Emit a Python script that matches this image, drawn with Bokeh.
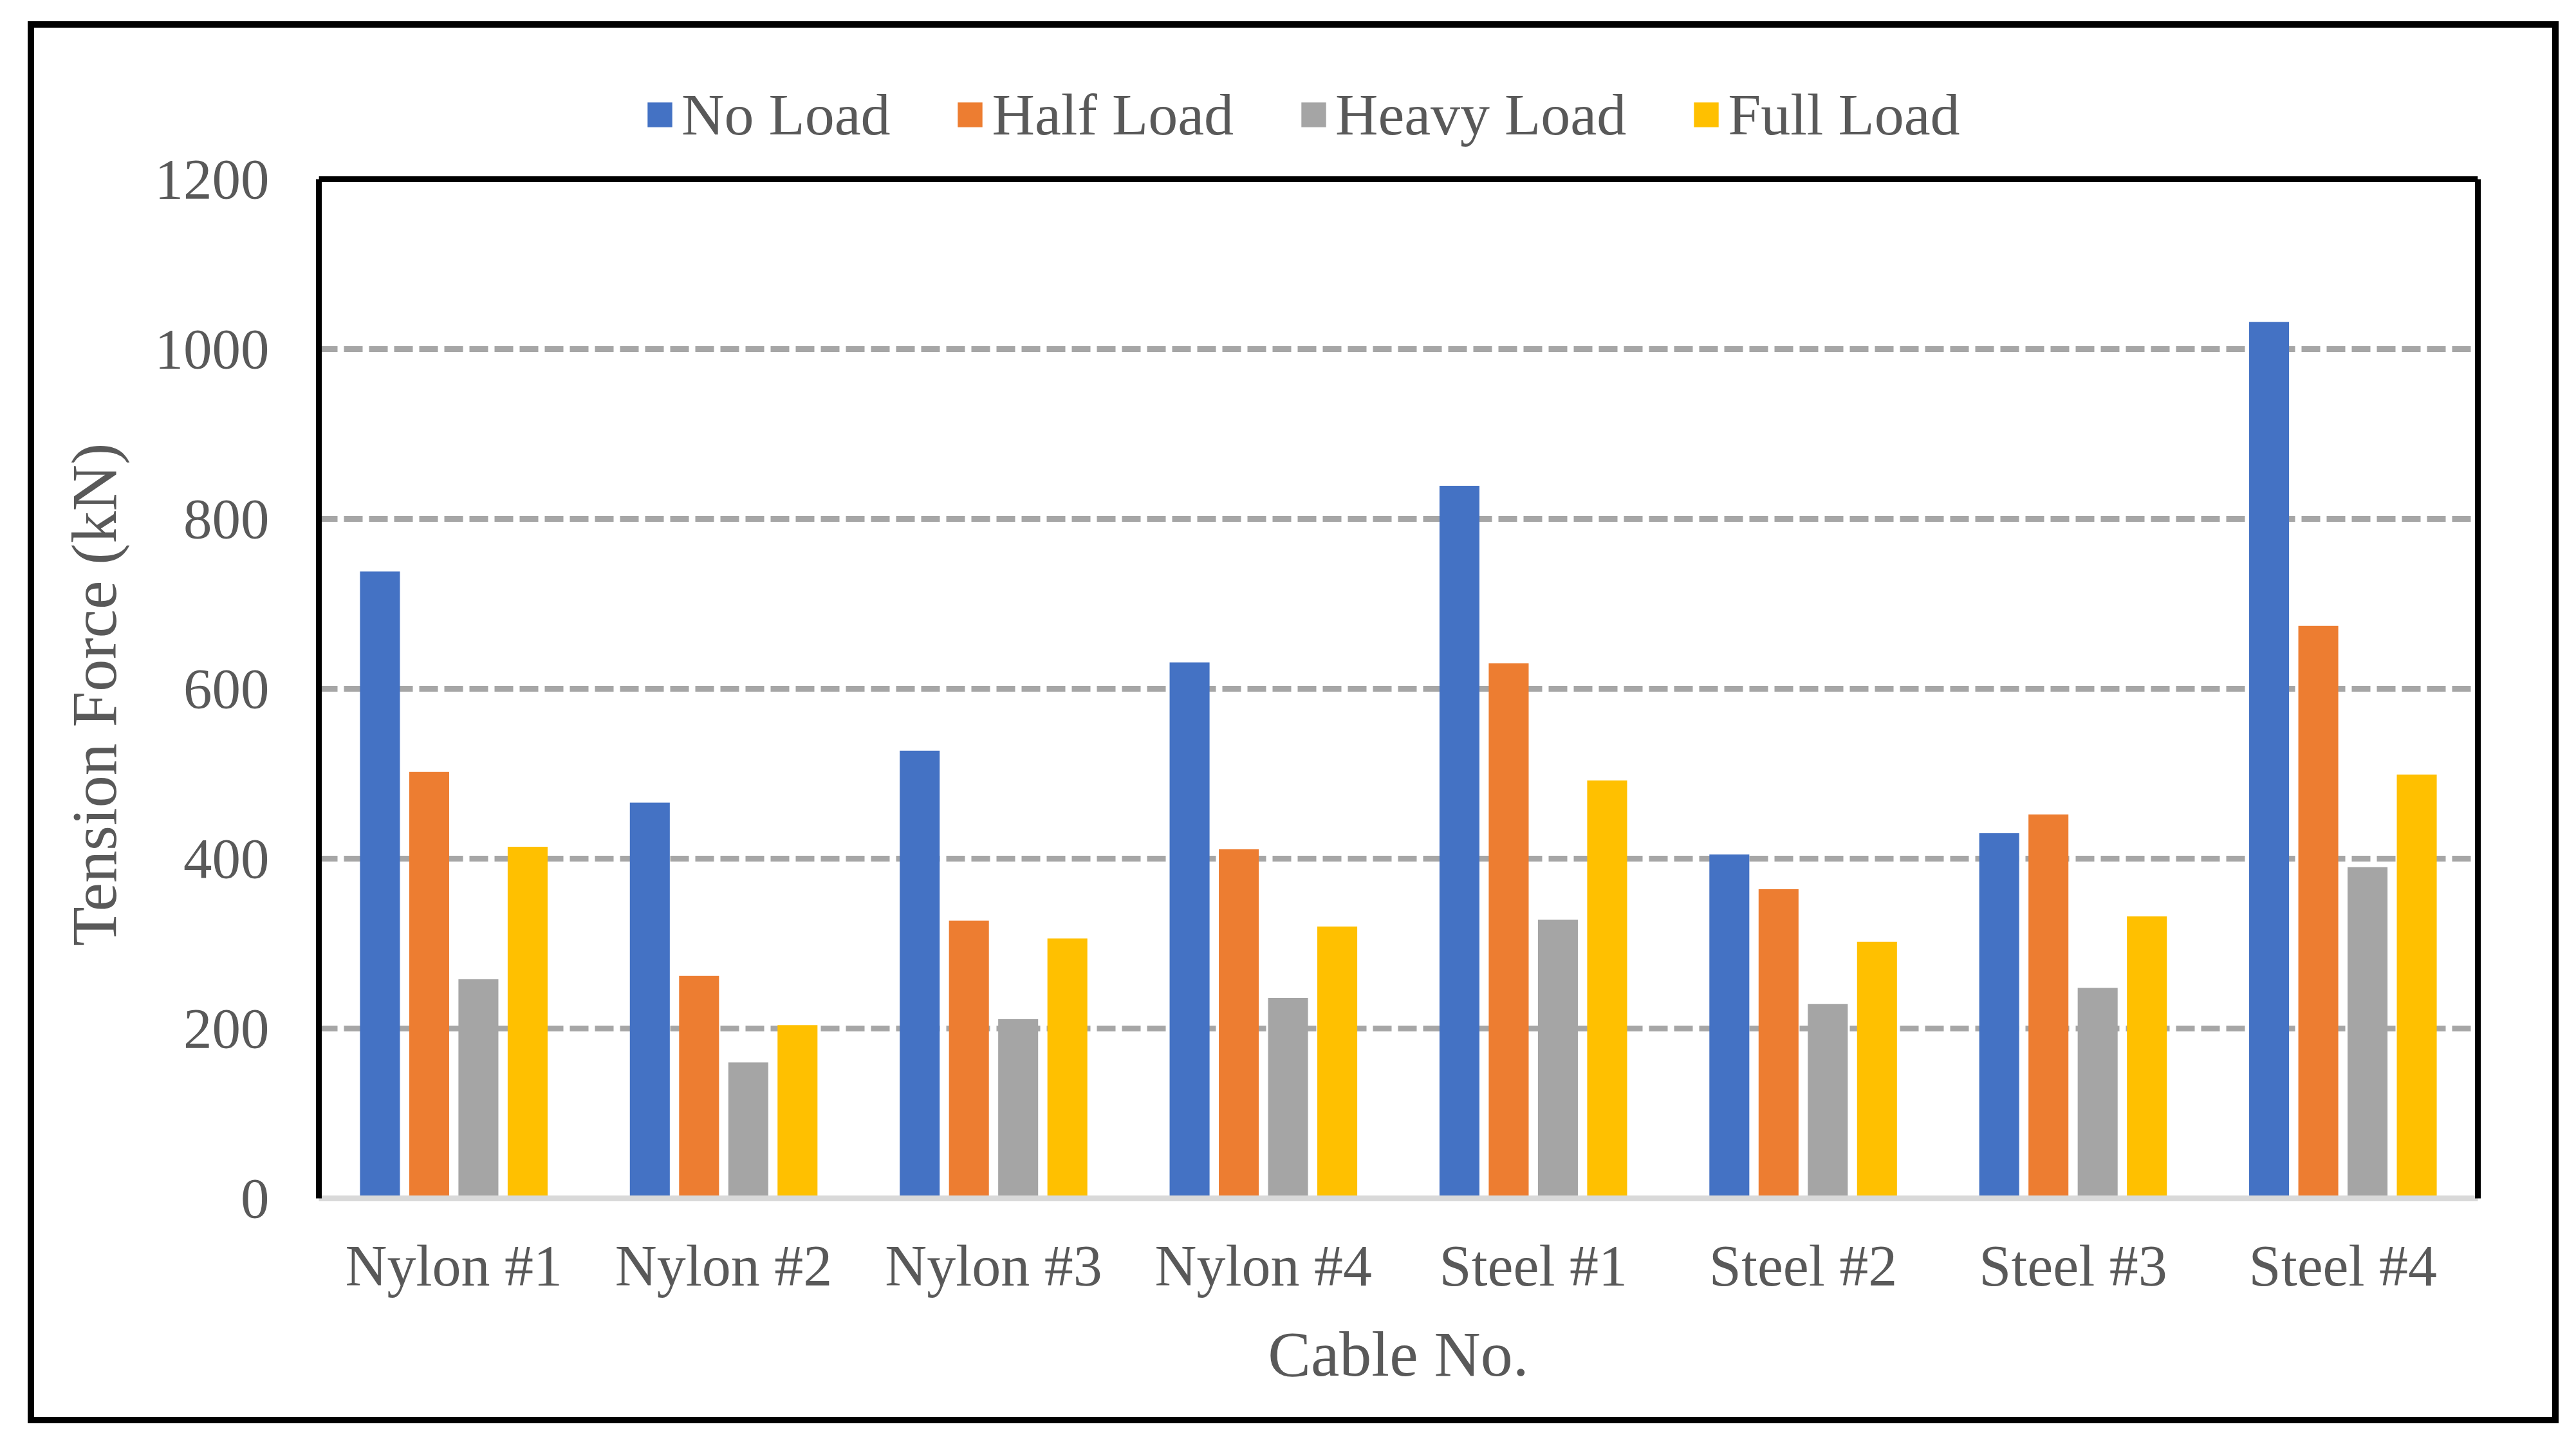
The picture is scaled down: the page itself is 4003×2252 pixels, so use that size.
from bokeh.plotting import figure
from bokeh.models import (FactorRange, Range1d, Legend, LegendItem, LinearAxis, Title,
                          FixedTicker, ColumnDataSource, InlineStyleSheet, Span)
from bokeh.transform import dodge
from bokeh.embed import file_html
from bokeh.resources import INLINE

cables = ["Nylon #1", "Nylon #2", "Nylon #3", "Nylon #4",
          "Steel #1", "Steel #2", "Steel #3", "Steel #4"]
no_load = [738, 466, 527, 631, 839, 405, 430, 1032]
half_load = [502, 262, 327, 411, 630, 364, 452, 674]
heavy_load = [258, 160, 211, 236, 328, 229, 248, 390]
full_load = [414, 204, 306, 320, 492, 302, 332, 499]
series_names = ["No Load", "Half Load", "Heavy Load", "Full Load"]
series_colors = ["#4472C4", "#ED7D31", "#A5A5A5", "#FFC000"]
y_ticks = [0, 200, 400, 600, 800, 1000, 1200]
y_max = 1200

FONT = "Liberation Serif"
TXT = "#595959"

# page geometry (pixels)
W, H = 3987, 2236
FRAME_LEFT, FRAME_RIGHT = 495, 3850
AXIS_TOP, FRAME_BOTTOM = 278, 1862      # where 1200 and 0 sit
FRAME_TOP = 98                          # frame extends above 1200 to hold the legend
px_per_unit = (FRAME_BOTTOM - AXIS_TOP) / y_max
view_top = (FRAME_BOTTOM - FRAME_TOP) / px_per_unit

p = figure(x_range=FactorRange(*cables), y_range=Range1d(0, view_top),
           width=W, height=H, output_backend="svg", toolbar_location=None,
           min_border_left=FRAME_LEFT, min_border_right=W - FRAME_RIGHT,
           min_border_top=FRAME_TOP, min_border_bottom=H - FRAME_BOTTOM)
p.outline_line_color = None
p.background_fill_color = "white"
p.border_fill_color = "white"

src = ColumnDataSource(dict(cable=cables, no=no_load, half=half_load,
                            heavy=heavy_load, full=full_load))
cols = ["no", "half", "heavy", "full"]
offsets = [-0.2736, -0.0912, 0.0912, 0.2736]
renderers = []
for c, off, col in zip(cols, offsets, series_colors):
    r = p.vbar(x=dodge("cable", off, range=p.x_range), top=c, width=0.148,
               source=src, fill_color=col, line_color=None)
    renderers.append(r)

# y axis
yax = p.yaxis[0]
yax.ticker = FixedTicker(ticks=y_ticks)
yax.bounds = (0, y_max)
yax.axis_line_color = "black"
yax.axis_line_width = 9
yax.major_tick_line_color = None
yax.minor_tick_line_color = None
yax.major_label_text_font = FONT
yax.major_label_text_font_size = "89px"
yax.major_label_text_color = TXT
yax.major_label_standoff = 71

# y axis title, centred on the 0..1200 part of the box
ytitle = Title(text="Tension Force (kN)", align="left", offset=392, standoff=72,
               text_font=FONT, text_font_size="100px", text_font_style="normal",
               text_color=TXT)
p.add_layout(ytitle, "left")

# x axis
xax = p.xaxis[0]
xax.axis_line_color = "#D9D9D9"
xax.axis_line_width = 9
xax.major_tick_line_color = None
xax.major_label_text_font = FONT
xax.major_label_text_font_size = "90px"
xax.major_label_text_color = TXT
xax.major_label_standoff = 49
xax.axis_label = "Cable No."
xax.axis_label_text_font = FONT
xax.axis_label_text_font_size = "100px"
xax.axis_label_text_font_style = "normal"
xax.axis_label_text_color = TXT
xax.axis_label_standoff = 29

# grid
p.xgrid.grid_line_color = None
p.ygrid.grid_line_color = "#A6A6A6"
p.ygrid.grid_line_width = 9
p.ygrid.grid_line_dash = "29 10"

# right and top lines of the plot box
rax = LinearAxis(ticker=FixedTicker(ticks=[]), bounds=(0, y_max),
                 axis_line_color="black", axis_line_width=9,
                 major_tick_line_color=None, minor_tick_line_color=None,
                 major_label_text_font_size="0px")
p.add_layout(rax, "right")
p.add_layout(Span(location=y_max, dimension="width", line_color="black", line_width=9))

# legend (top, inside the extended frame area)
legend = Legend(items=[LegendItem(label=n, renderers=[r]) for n, r in zip(series_names, renderers)],
                orientation="horizontal", location=(506, 1631),
                glyph_width=48, glyph_height=48, label_standoff=10, spacing=100,
                padding=0, margin=0, border_line_color=None, background_fill_alpha=0,
                label_text_font=FONT, label_text_font_size="92px", label_text_color=TXT)
p.add_layout(legend, "center")

# outer chart border (drawn by CSS over the figure)
p.stylesheets = [InlineStyleSheet(css="""
:host { position: relative; }
:host::after {
  content: "";
  position: absolute;
  left: 43px; top: 33px;
  width: 3933px; height: 2179px;
  border: 10px solid #000000;
  box-sizing: border-box;
  pointer-events: none;
  z-index: 10;
}
""")]

open("out.html", "w").write(file_html(p, INLINE))
